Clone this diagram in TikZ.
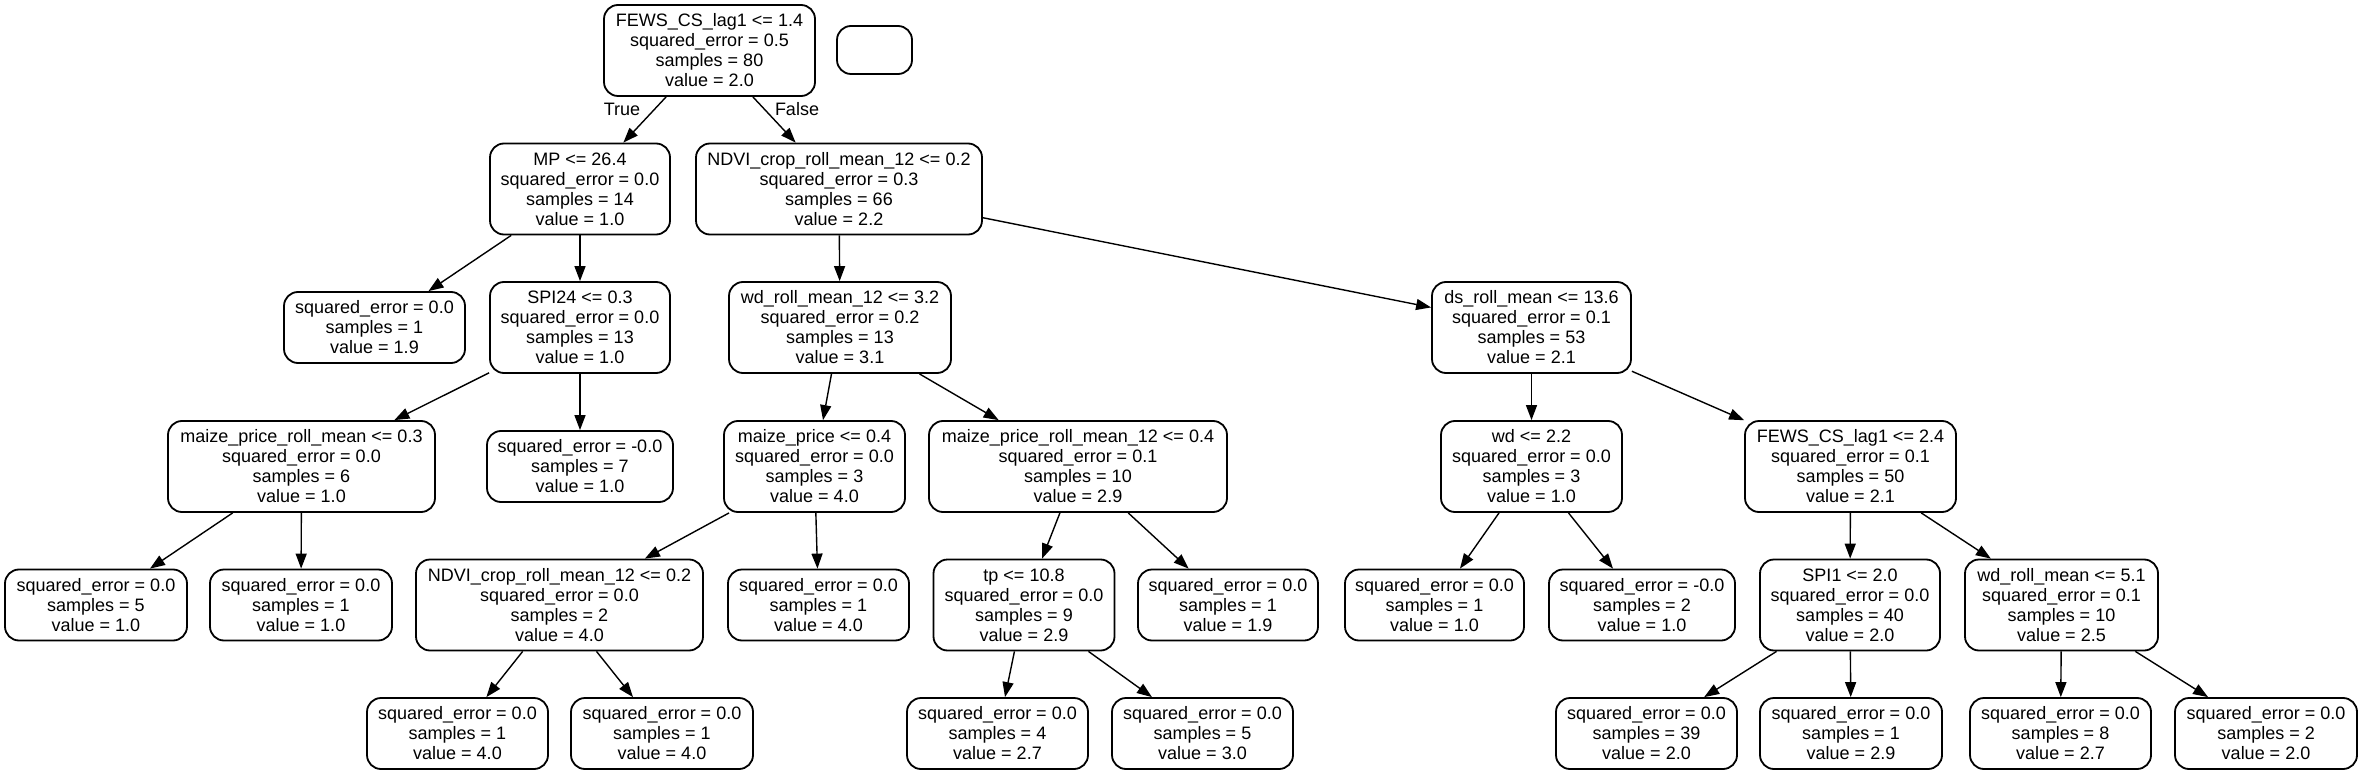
\documentclass[tikz,border=0pt]{standalone}
\usepackage{fontspec}
\setmainfont{Liberation Sans}
\usetikzlibrary{arrows.meta}
\tikzset{
  box/.style={draw, rounded corners=7pt, line width=0.9pt, align=center,
    font=\fontsize{9}{10}\selectfont, inner sep=0pt, minimum height=45.5pt, fill=white},
  leaf/.style={box, minimum height=35.5pt},
  edge/.style={line width=0.7pt, -{Triangle[length=7.5pt,width=5.5pt]}},
  elabel/.style={font=\fontsize{9}{10}\selectfont, inner sep=0pt}
}
\begin{document}
\begin{tikzpicture}[x=0.5pt,y=-0.5pt]
\useasboundingbox[fill=white] (0,0) rectangle (2361,775);
% level 0
\node[box, minimum width=105.5pt] (n0) at (709.5,50.5) {FEWS\_CS\_lag1 <= 1.4\\squared\_error = 0.5\\samples = 80\\value = 2.0};
\node[draw, rounded corners=7pt, line width=0.9pt, minimum width=37.5pt, minimum height=24pt, inner sep=0pt] (e0) at (874.5,50) {};
% level 1
\node[box, minimum width=90pt] (n1) at (580,189) {MP <= 26.4\\squared\_error = 0.0\\samples = 14\\value = 1.0};
\node[box, minimum width=143pt] (n2) at (839,189) {NDVI\_crop\_roll\_mean\_12 <= 0.2\\squared\_error = 0.3\\samples = 66\\value = 2.2};
% level 2
\node[leaf, minimum width=90.5pt] (n3) at (374.5,327.5) {squared\_error = 0.0\\samples = 1\\value = 1.9};
\node[box, minimum width=90pt] (n4) at (580,327.5) {SPI24 <= 0.3\\squared\_error = 0.0\\samples = 13\\value = 1.0};
\node[box, minimum width=111pt] (n5) at (840,327.5) {wd\_roll\_mean\_12 <= 3.2\\squared\_error = 0.2\\samples = 13\\value = 3.1};
\node[box, minimum width=99.5pt] (n6) at (1531.5,327.5) {ds\_roll\_mean <= 13.6\\squared\_error = 0.1\\samples = 53\\value = 2.1};
% level 3
\node[box, minimum width=133.5pt] (n7) at (301.5,466.5) {maize\_price\_roll\_mean <= 0.3\\squared\_error = 0.0\\samples = 6\\value = 1.0};
\node[leaf, minimum width=93pt] (n8) at (580,466.5) {squared\_error = -0.0\\samples = 7\\value = 1.0};
\node[box, minimum width=90.5pt] (n9) at (814.5,466.5) {maize\_price <= 0.4\\squared\_error = 0.0\\samples = 3\\value = 4.0};
\node[box, minimum width=149pt] (n10) at (1078,466.5) {maize\_price\_roll\_mean\_12 <= 0.4\\squared\_error = 0.1\\samples = 10\\value = 2.9};
\node[box, minimum width=90.5pt] (n11) at (1531.5,466.5) {wd <= 2.2\\squared\_error = 0.0\\samples = 3\\value = 1.0};
\node[box, minimum width=105.5pt] (n12) at (1850.5,466.5) {FEWS\_CS\_lag1 <= 2.4\\squared\_error = 0.1\\samples = 50\\value = 2.1};
% level 4
\node[leaf, minimum width=91pt] (n13) at (96,605) {squared\_error = 0.0\\samples = 5\\value = 1.0};
\node[leaf, minimum width=91pt] (n14) at (301,605) {squared\_error = 0.0\\samples = 1\\value = 1.0};
\node[box, minimum width=143.5pt] (n15) at (559.5,605) {NDVI\_crop\_roll\_mean\_12 <= 0.2\\squared\_error = 0.0\\samples = 2\\value = 4.0};
\node[leaf, minimum width=90.5pt] (n16) at (818.5,605) {squared\_error = 0.0\\samples = 1\\value = 4.0};
\node[box, minimum width=90.5pt] (n17) at (1024,605) {tp <= 10.8\\squared\_error = 0.0\\samples = 9\\value = 2.9};
\node[leaf, minimum width=90pt] (n18) at (1228,605) {squared\_error = 0.0\\samples = 1\\value = 1.9};
\node[leaf, minimum width=89.5pt] (n19) at (1434.5,605) {squared\_error = 0.0\\samples = 1\\value = 1.0};
\node[leaf, minimum width=93pt] (n20) at (1642,605) {squared\_error = -0.0\\samples = 2\\value = 1.0};
\node[box, minimum width=90pt] (n21) at (1850,605) {SPI1 <= 2.0\\squared\_error = 0.0\\samples = 40\\value = 2.0};
\node[box, minimum width=96.5pt] (n22) at (2061.5,605) {wd\_roll\_mean <= 5.1\\squared\_error = 0.1\\samples = 10\\value = 2.5};
% level 5
\node[leaf, minimum width=90.5pt] (n23) at (457.5,733.5) {squared\_error = 0.0\\samples = 1\\value = 4.0};
\node[leaf, minimum width=91pt] (n24) at (662,733.5) {squared\_error = 0.0\\samples = 1\\value = 4.0};
\node[leaf, minimum width=90.5pt] (n25) at (997.5,733.5) {squared\_error = 0.0\\samples = 4\\value = 2.7};
\node[leaf, minimum width=90.5pt] (n26) at (1202.5,733.5) {squared\_error = 0.0\\samples = 5\\value = 3.0};
\node[leaf, minimum width=90.5pt] (n27) at (1646.5,733.5) {squared\_error = 0.0\\samples = 39\\value = 2.0};
\node[leaf, minimum width=91pt] (n28) at (1851,733.5) {squared\_error = 0.0\\samples = 1\\value = 2.9};
\node[leaf, minimum width=90.5pt] (n29) at (2060.5,733.5) {squared\_error = 0.0\\samples = 8\\value = 2.7};
\node[leaf, minimum width=91pt] (n30) at (2266,733.5) {squared\_error = 0.0\\samples = 2\\value = 2.0};
% edges
\draw[edge] (n0) -- (n1);
\draw[edge] (n0) -- (n2);
\node[elabel] (lt) at (622,109) {True};
\node[elabel] (lf) at (797,109) {False};
\draw[edge] (n1) -- (n3);
\draw[edge] (n1) -- (n4);
\draw[edge] (n2) -- (n5);
\draw[edge] (n2) -- (n6);
\draw[edge] (n4) -- (n7);
\draw[edge] (n4) -- (n8);
\draw[edge] (n5) -- (n9);
\draw[edge] (n5) -- (n10);
\draw[edge] (n6) -- (n11);
\draw[edge] (n6) -- (n12);
\draw[edge] (n7) -- (n13);
\draw[edge] (n7) -- (n14);
\draw[edge] (n9) -- (n15);
\draw[edge] (n9) -- (n16);
\draw[edge] (n10) -- (n17);
\draw[edge] (n10) -- (n18);
\draw[edge] (n11) -- (n19);
\draw[edge] (n11) -- (n20);
\draw[edge] (n12) -- (n21);
\draw[edge] (n12) -- (n22);
\draw[edge] (n15) -- (n23);
\draw[edge] (n15) -- (n24);
\draw[edge] (n17) -- (n25);
\draw[edge] (n17) -- (n26);
\draw[edge] (n21) -- (n27);
\draw[edge] (n21) -- (n28);
\draw[edge] (n22) -- (n29);
\draw[edge] (n22) -- (n30);
\end{tikzpicture}
\end{document}
